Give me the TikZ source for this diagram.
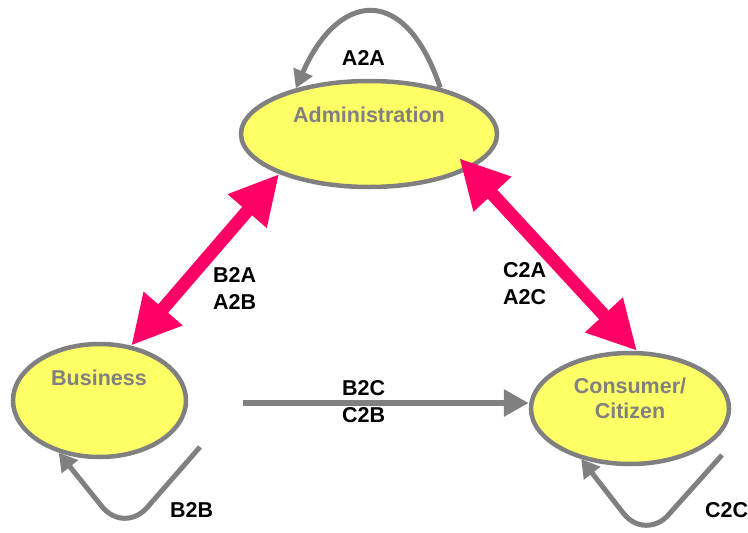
\documentclass[tikz,border=0pt]{standalone}
\usepackage{fontspec}
\setmainfont{Liberation Sans}
\usetikzlibrary{shapes.geometric,arrows.meta,calc}
\definecolor{ygfill}{HTML}{FFFF66}
\definecolor{gline}{HTML}{808080}
\definecolor{pinkarrow}{HTML}{FF0066}
\begin{document}
\begin{tikzpicture}[x=1pt,y=-1pt,
  statebox/.style={ellipse, draw=gline, line width=4.5pt, fill=ygfill, inner sep=0pt},
  statetext/.style={text=gline, font=\fontsize{21.5}{25}\selectfont\bfseries, inner sep=0pt, align=center},
  lbl/.style={text=black, font=\fontsize{21.5}{27}\selectfont\bfseries, inner sep=0pt, align=left},
  bigarrow/.style={draw=pinkarrow, line width=13pt, {Triangle[width=48pt,length=49pt]}-{Triangle[width=48pt,length=49pt]}},
  grayarrow/.style={draw=gline, line width=6pt, -{Triangle[width=26pt,length=25pt]}},
  loopline/.style={draw=gline, line width=5pt, -{Triangle[width=20pt,length=18pt]}, rounded corners=35pt}
]
\useasboundingbox (0,0) rectangle (748,533);

% states
\node[statebox, minimum width=256pt, minimum height=106pt] (adm) at (369,134) {};
\node[statebox, minimum width=173pt, minimum height=113pt] (bus) at (99.5,400.5) {};
\node[statebox, minimum width=198pt, minimum height=111pt] (con) at (630,408.5) {};

\node[statetext, anchor=base] (admtext) at (369,122) {Administration};
\node[statetext, anchor=base] (bustext) at (99,385) {Business};
\node[statetext, anchor=north] (context) at (630,378) {Consumer/\\Citizen};

% pink bidirectional arrows
\draw[bigarrow] (bus.60) -- (adm.204);
\draw[bigarrow] ($(adm.center)!0.82!(adm.-15)$) -- (con.83);

% B2C arrow
\coordinate (b2cs) at (243,403);
\draw[grayarrow] (b2cs) -- (b2cs -| con.west);

% self loops
\draw[loopline, rounded corners=0pt] (adm.33) .. controls (405,-18) and (338,-8) .. (adm.148);
\coordinate (bbs) at (200,447);
\coordinate (bbv) at (124,534);
\draw[loopline] (bbs) -- (bbv) -- (bus.232);
\coordinate (ccs) at (722,455);
\coordinate (ccv) at (645,541);
\draw[loopline] (ccs) -- (ccv) -- (con.226);

% labels
\node[lbl, anchor=base] (a2a) at (363.5,65) {A2A};
\node[lbl, anchor=north west] (b2a) at (213,267) {B2A\\A2B};
\node[lbl, anchor=north west] (c2a) at (503,262) {C2A\\A2C};
\node[lbl, anchor=north west] (b2c) at (342,380) {B2C\\C2B};
\node[lbl, anchor=base west] (b2b) at (170,517) {B2B};
\node[lbl, anchor=base west] (c2c) at (705,517) {C2C};
\end{tikzpicture}
\end{document}
